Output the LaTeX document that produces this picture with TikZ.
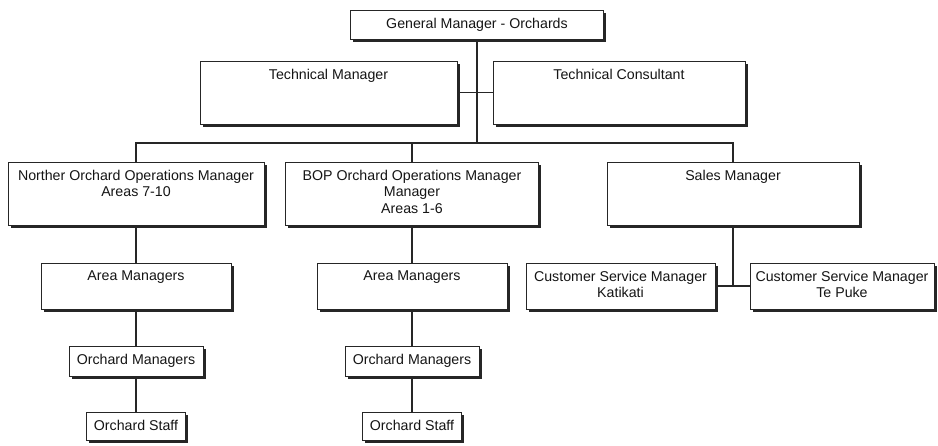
\documentclass[tikz,border=0pt]{standalone}
\usepackage{fontspec}
\setmainfont{Liberation Sans}
\usetikzlibrary{shadows,backgrounds}

\definecolor{ink}{HTML}{151515}
\definecolor{rule}{HTML}{262626}

\tikzset{
  box/.style={rectangle, draw=rule, line width=0.8pt, fill=white, inner sep=0pt,
    drop shadow={shadow xshift=2.6pt, shadow yshift=-2.6pt, fill=black!85, opacity=1}},
  boxtext/.style={anchor=north, inner sep=0pt, align=center, text=ink,
    font=\fontsize{14.2}{16.5}\selectfont},
  conn/.style={draw=rule, line width=1.2pt}
}

% \orgbox{name}{centre}{width}{height}{text}
\newcommand\orgbox[5]{%
  \node[box, minimum width=#3, minimum height=#4] (#1) at (#2) {};
  \node[boxtext] (#1-t) at ([yshift=-8pt]#1.north) {#5};
}

\begin{document}
\begin{tikzpicture}[x=1pt,y=-1pt]
\useasboundingbox (0,0) rectangle (938,445);

% top level
\orgbox{gm}{477,24.5}{253pt}{29pt}{General Manager - Orchards}
\orgbox{tm}{328.5,92.5}{257pt}{63pt}{Technical Manager}
\orgbox{tc}{619,92.5}{252pt}{63pt}{Technical Consultant}

% second level
\orgbox{north}{136,193.5}{256pt}{63pt}{Norther Orchard Operations Manager\\Areas 7-10}
\orgbox{bop}{412,193.5}{253pt}{63pt}{BOP Orchard Operations Manager\\Manager\\Areas 1-6}
\orgbox{sales}{733,193.5}{252pt}{63pt}{Sales Manager}

% northern branch
\orgbox{amn}{136,286}{190pt}{46pt}{Area Managers}
\orgbox{omn}{136,361}{134pt}{30pt}{Orchard Managers}
\orgbox{osn}{136,426}{99pt}{28pt}{Orchard Staff}

% BOP branch
\orgbox{amb}{412,286}{190pt}{46pt}{Area Managers}
\orgbox{omb}{412,361}{134pt}{30pt}{Orchard Managers}
\orgbox{osb}{412,426}{99pt}{28pt}{Orchard Staff}

% sales branch
\orgbox{csk}{620.5,286}{189pt}{46pt}{Customer Service Manager\\Katikati}
\orgbox{cst}{842,286}{184pt}{46pt}{Customer Service Manager\\Te Puke}

\coordinate (bar) at (477,143);
\coordinate (sj) at (733,286);

\begin{pgfonlayer}{background}
  \fill[white] (0,0) rectangle (938,445);
  \draw[conn] (gm.south) -- (bar);
  \draw[conn] (tm.east) -- (tc.west);
  \draw[conn] (north.north) |- (bar) -| (sales.north);
  \draw[conn] (bop.north) -- (bop.north |- bar);
  \draw[conn] (north.south) -- (amn.north);
  \draw[conn] (amn.south) -- (omn.north);
  \draw[conn] (omn.south) -- (osn.north);
  \draw[conn] (bop.south) -- (amb.north);
  \draw[conn] (amb.south) -- (omb.north);
  \draw[conn] (omb.south) -- (osb.north);
  \draw[conn] (sales.south) -- (sj);
  \draw[conn] (csk.east) -- (cst.west);
\end{pgfonlayer}
\end{tikzpicture}
\end{document}
